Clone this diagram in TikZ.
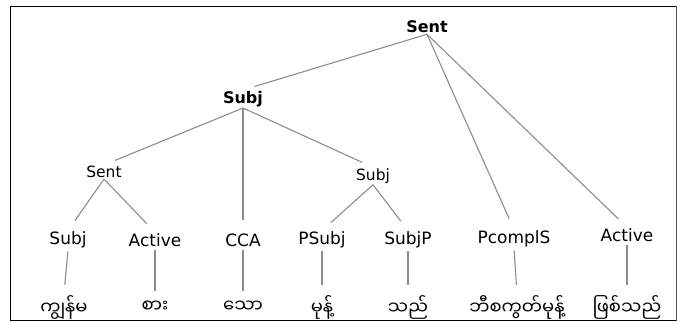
\documentclass[tikz,border=0pt]{standalone}
\usepackage{fontspec}
\setmainfont{DejaVu Sans}
\newfontfamily\myanmarfont[Script=Myanmar]{Noto Sans Myanmar UI}
\def \branchcolor {gray!90}
\def \topsize {\fontsize{16}{18}\selectfont}
\def \midsize {\fontsize{15.5}{18}\selectfont}
\def \catsize {\fontsize{17}{19}\selectfont}
\def \wordsize {\fontsize{18}{20}\selectfont}
\def \catrow {240}
\def \wordrow {307}
\tikzset{
  topcat/.style={inner sep=1pt, font=\topsize\bfseries},
  midcat/.style={inner sep=1pt, font=\midsize},
  cat/.style={inner sep=1pt, font=\catsize},
  word/.style={inner sep=1pt, font=\wordsize\myanmarfont},
  branch/.style={draw=\branchcolor, line width=1.1pt, shorten >=12pt},
  leafbranch/.style={draw=\branchcolor, line width=1.1pt, shorten <=2pt, shorten >=9pt}
}

\begin{document}
\begin{tikzpicture}[x=1pt,y=-1pt]
\useasboundingbox (0,0) rectangle (680,322);
% Draw the outside box
\draw[line width=1pt] (10,6) rectangle (676,320);
\draw[line width=1pt,black!70] (676.8,6) -- (676.8,320.5);
% Draw the categories
\node[topcat] (sent) at (427,27) {Sent};
\node[topcat] (subj) at (243,99) {Subj};
\node[midcat] (sentb) at (104,172) {Sent};
\node[midcat] (subjb) at (373,176) {Subj};
\node[cat] (subjc) at (68,\catrow) {Subj};
\node[cat] (activeb) at (155,\catrow) {Active};
\node[cat] (cca) at (243,\catrow) {CCA};
\node[cat] (psubj) at (322,\catrow) {PSubj};
\node[cat] (subjp) at (408,\catrow) {SubjP};
\node[cat] (pcompls) at (514,239) {PcomplS};
\node[cat] (active) at (627,235) {Active};
% Draw the words
\node[word] (kyunma) at (64,\wordrow) {ကျွန်မ};
\node[word] (sa) at (155,\wordrow) {စား};
\node[word] (tho) at (243,\wordrow) {သော};
\node[word] (mont) at (322,\wordrow) {မုန့်};
\node[word] (thi) at (408,\wordrow) {သည်};
\node[word] (biscuit) at (517,\wordrow) {ဘီစကွတ်မုန့်};
\node[word] (phyitthi) at (627,\wordrow) {ဖြစ်သည်};
% Draw the branches
\draw[branch] (sent.south) -- (subj.north);
\draw[branch] (sent.south) -- (pcompls.north);
\draw[branch] (sent.south) -- (active.north);
\draw[branch] (subj.south) -- (sentb.north);
\draw[branch] (subj.south) -- (cca.north);
\draw[branch] (subj.south) -- (subjb.north);
\draw[branch] (sentb.south) -- (subjc.north);
\draw[branch] (sentb.south) -- (activeb.north);
\draw[branch] (subjb.south) -- (psubj.north);
\draw[branch] (subjb.south) -- (subjp.north);
% Draw the lines down to the words
\draw[leafbranch] (subjc.south) -- (kyunma.north);
\draw[leafbranch] (activeb.south) -- (sa.north);
\draw[leafbranch] (cca.south) -- (tho.north);
\draw[leafbranch] (psubj.south) -- (mont.north);
\draw[leafbranch] (subjp.south) -- (thi.north);
\draw[leafbranch] (pcompls.south) -- (biscuit.north);
\draw[leafbranch] (active.south) -- (phyitthi.north);
\end{tikzpicture}
\end{document}
